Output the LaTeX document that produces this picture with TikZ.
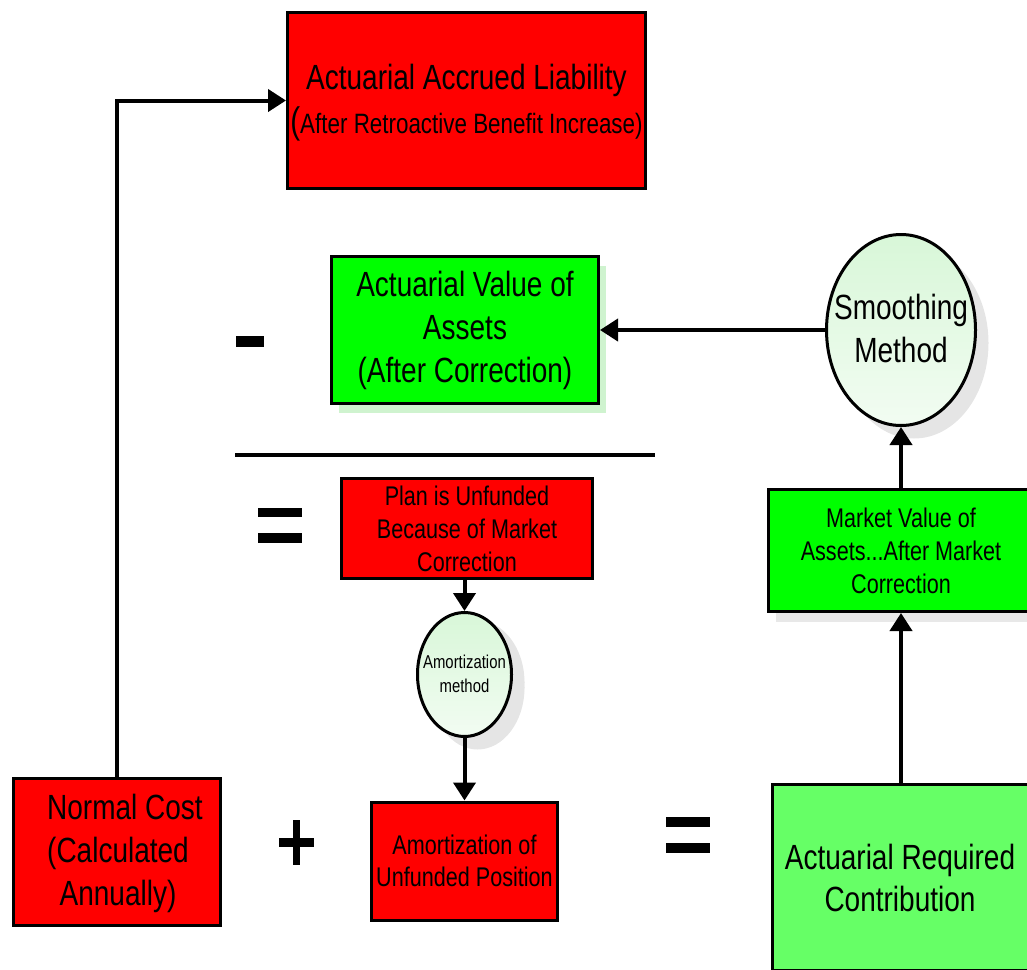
\documentclass[tikz,border=0pt]{standalone}
\usepackage{fontspec}
\setmainfont{Liberation Sans}[FakeStretch=0.8]
\usetikzlibrary{arrows.meta,shapes.geometric,shadows}

\definecolor{boxred}{HTML}{FF0000}
\definecolor{boxgreen}{HTML}{00FF00}
\definecolor{softgreen}{HTML}{66FF66}
\definecolor{greenshade}{HTML}{CFF3CF}
\definecolor{ovaltop}{HTML}{D8F7D8}
\definecolor{ovalbottom}{HTML}{F2FCF2}

\begin{document}
\begin{tikzpicture}[x=1pt,y=-1pt,
  box/.style={draw=black, line width=3pt, rectangle, inner sep=0pt, align=center},
  redbox/.style={box, fill=boxred},
  greenbox/.style={box, fill=boxgreen},
  oval/.style={ellipse, draw=black, line width=3pt, inner sep=0pt,
    top color=ovaltop, bottom color=ovalbottom,
    drop shadow={shadow xshift=13pt, shadow yshift=-13pt, fill=black!10, opacity=1}},
  link/.style={line width=4pt, -{Triangle[length=18pt,width=22pt]}},
  bigtext/.style={font=\fontsize{35}{43}\selectfont},
  midtext/.style={font=\fontsize{27}{33}\selectfont},
  smalltext/.style={font=\fontsize{18.6}{24}\selectfont},
  opbar/.style={fill=black},
]
\useasboundingbox (0,0) rectangle (1027,969);

% liability at the top
\node[redbox, minimum width=358pt, minimum height=176pt] (aal) at (466.5,100.5) {};
\node[bigtext, align=center] (aaltext) at (466.5,103)
  {Actuarial Accrued Liability\\[1pt]
   {\fontsize{37}{44}\selectfont(}{\fontsize{28}{44}\selectfont After Retroactive Benefit Increase)}};

% assets subtracted
\node[greenbox, bigtext, minimum width=267pt, minimum height=147pt,
  drop shadow={shadow xshift=7pt, shadow yshift=-9pt, fill=greenshade, opacity=1}] (ava) at (465,330)
  {Actuarial Value of\\Assets\\(After Correction)};

\node[oval, minimum width=149pt, minimum height=191pt] (sm) at (901,330) {};
\node[bigtext, align=center] (smtext) at (901,328) {Smoothing\\Method};

\node[greenbox, midtext, minimum width=265pt, minimum height=122pt,
  drop shadow={shadow xshift=7pt, shadow yshift=-10pt, fill=black!9, opacity=1}] (mva) at (901,550.5)
  {Market Value of\\Assets...After Market\\Correction};

% unfunded position
\node[redbox, midtext, minimum width=251pt, minimum height=100pt] (plan) at (467,528.5)
  {Plan is Unfunded\\Because of Market\\Correction};

\node[oval, minimum width=94pt, minimum height=124pt,
  drop shadow={shadow xshift=13pt, shadow yshift=-8pt, fill=black!10, opacity=1}] (am) at (464.5,674.5) {};
\node[smalltext, align=center] (amtext) at (464.5,674) {Amortization\\method};

\node[redbox, font=\fontsize{27}{32}\selectfont, minimum width=186pt, minimum height=118pt] (amb) at (464.5,861)
  {Amortization of\\Unfunded Position};

% bottom row
\node[redbox, minimum width=207pt, minimum height=147pt] (nc) at (117,852) {};
\node[bigtext, align=center] (nctext) at (118,853) {\hspace*{14pt}Normal Cost\\(Calculated\\Annually)};

\node[box, fill=softgreen, font=\fontsize{35}{42}\selectfont, minimum width=256pt, minimum height=186pt] (arc) at (900,877.5)
  {Actuarial Required\\Contribution};

% operators and the subtraction rule
\fill[opbar] (236,336) rectangle (264,347);
\draw[line width=3.5pt] (235,455) -- (655,455);
\fill[opbar] (258,508) rectangle (302,517);
\fill[opbar] (258,533) rectangle (302,543);
\fill[opbar] (279,838) rectangle (314,847);
\fill[opbar] (293,820) rectangle (300,865);
\fill[opbar] (666,817) rectangle (710,827);
\fill[opbar] (666,843) rectangle (710,853);

% connectors
\draw[link] (nc.north) |- (aal.west);
\draw[link] (sm.west) -- (ava.east);
\draw[link] (mva.north) -- (sm.south);
\draw[link] (arc.north -| mva.south) -- (mva.south);
\draw[link] (am.north |- plan.south) -- (am.north);
\draw[link] (am.south) -- (amb.north);
\end{tikzpicture}
\end{document}
